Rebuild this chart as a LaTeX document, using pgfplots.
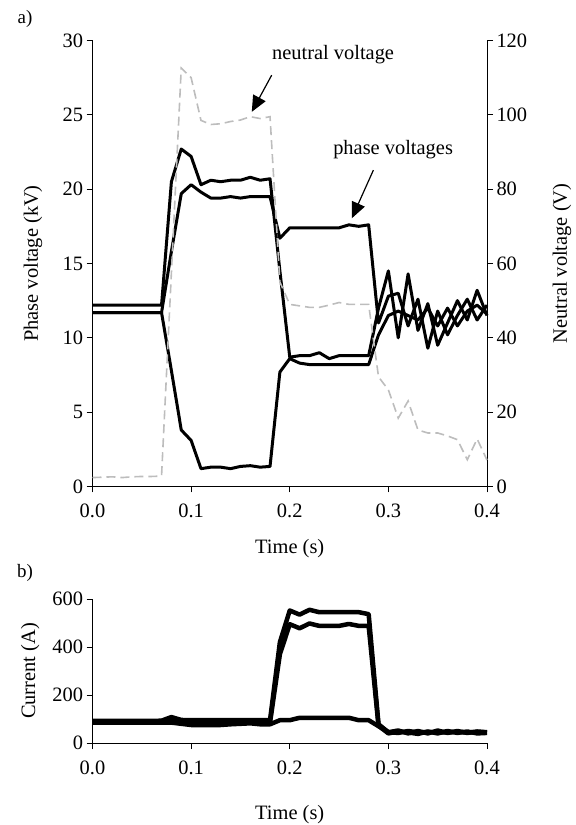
\documentclass[border=0pt]{standalone}
\usepackage{fontspec}
\setmainfont{Liberation Serif}
\usepackage{pgfplots}
\pgfplotsset{compat=1.18}
\usetikzlibrary{arrows.meta}

\definecolor{neutralgrey}{HTML}{BDBDBD}

\pgfplotsset{
  excel/.style={
    scale only axis,
    width=394.5bp,
    xmin=0, xmax=0.4,
    xtick={0,0.1,0.2,0.3,0.4},
    tick align=outside,
    major tick length=6bp,
    tick style={black, line width=0.8bp},
    axis line style={black, line width=0.8bp, -},
    ticklabel style={font=\fontsize{20.5}{24}\selectfont},
    label style={font=\fontsize{20.5}{24}\selectfont},
    xticklabel style={/pgf/number format/fixed, /pgf/number format/fixed zerofill,
      /pgf/number format/precision=1, yshift=-8bp},
    /pgf/number format/assume math mode=true,
    clip=false,
  },
  phase/.style={black, line width=3bp, line join=round},
  curr/.style={black, line width=4.5bp, line join=round},
}

\begin{document}
\begin{tikzpicture}
\path[use as bounding box] (0bp,0bp) rectangle (576bp,825bp);

\node[font=\fontsize{19}{22}\selectfont] at (25bp,806bp) {a)};
\node[font=\fontsize{19}{22}\selectfont] at (25bp,252bp) {b)};

% ---- a) phase voltages (left axis)
\begin{axis}[excel,
  at={(92.5bp,338.5bp)}, anchor=south west,
  height=446bp,
  ymin=0, ymax=30, ytick={0,5,...,30},
  axis x line*=bottom, axis y line*=left,
  xlabel={Time (s)},
  ylabel={Phase voltage (kV)},
  xlabel style={at={(axis description cs:0.5,-0.14)}, anchor=center},
  ylabel style={at={(axis description cs:-0.151,0.5)}, anchor=center},
]
\addplot[phase] coordinates {
  (0,12.2) (0.01,12.2) (0.02,12.2) (0.03,12.2) (0.04,12.2) (0.05,12.2) (0.06,12.2) (0.07,12.2)
  (0.08,20.5) (0.09,22.7) (0.10,22.2) (0.11,20.3) (0.12,20.6) (0.13,20.5) (0.14,20.6)
  (0.15,20.6) (0.16,20.8) (0.17,20.6) (0.18,20.7) (0.19,14.5) (0.20,8.7) (0.21,8.8)
  (0.22,8.8) (0.23,9.0) (0.24,8.6) (0.25,8.8) (0.26,8.8) (0.27,8.8) (0.28,8.8)
  (0.29,12.0) (0.30,14.5) (0.31,10.0) (0.32,14.3) (0.33,10.5) (0.34,12.3) (0.35,9.5)
  (0.36,11.0) (0.37,12.5) (0.38,11.2) (0.39,13.2) (0.40,11.5)
};
\addplot[phase] coordinates {
  (0,11.7) (0.01,11.7) (0.02,11.7) (0.03,11.7) (0.04,11.7) (0.05,11.7) (0.06,11.7) (0.07,11.7)
  (0.08,15.8) (0.09,19.7) (0.10,20.3) (0.11,19.8) (0.12,19.4) (0.13,19.4) (0.14,19.5)
  (0.15,19.4) (0.16,19.5) (0.17,19.5) (0.18,19.5) (0.19,16.7) (0.20,17.4) (0.21,17.4)
  (0.22,17.4) (0.23,17.4) (0.24,17.4) (0.25,17.4) (0.26,17.6) (0.27,17.5) (0.28,17.6)
  (0.29,11.0) (0.30,12.8) (0.31,13.0) (0.32,10.8) (0.33,12.6) (0.34,9.3) (0.35,11.8)
  (0.36,10.2) (0.37,11.5) (0.38,12.6) (0.39,11.2) (0.40,12.2)
};
\addplot[phase] coordinates {
  (0,11.7) (0.01,11.7) (0.02,11.7) (0.03,11.7) (0.04,11.7) (0.05,11.7) (0.06,11.7) (0.07,11.7)
  (0.08,7.8) (0.09,3.8) (0.10,3.1) (0.11,1.2) (0.12,1.3) (0.13,1.3) (0.14,1.2)
  (0.15,1.35) (0.16,1.4) (0.17,1.3) (0.18,1.35) (0.19,7.7) (0.20,8.6) (0.21,8.3)
  (0.22,8.2) (0.23,8.2) (0.24,8.2) (0.25,8.2) (0.26,8.2) (0.27,8.2) (0.28,8.2)
  (0.29,10.2) (0.30,11.5) (0.31,11.8) (0.32,11.5) (0.33,11.2) (0.34,12.0) (0.35,10.8)
  (0.36,12.0) (0.37,10.8) (0.38,11.8) (0.39,12.2) (0.40,11.6)
};
\draw[-{Triangle[length=16bp,width=14bp]}, line width=1.2bp]
  (axis cs:0.1817,27.67) -- (axis cs:0.1615,25.2);
\node[font=\fontsize{20.5}{24}\selectfont] at (axis cs:0.2439,29.02) {neutral voltage};
\draw[-{Triangle[length=16bp,width=14bp]}, line width=1.2bp]
  (axis cs:0.2848,21.28) -- (axis cs:0.2629,18.04);
\node[font=\fontsize{20.5}{24}\selectfont] at (axis cs:0.3048,22.63) {phase voltages};
\end{axis}

% ---- a) neutral voltage (right axis)
\begin{axis}[excel,
  at={(92.5bp,338.5bp)}, anchor=south west,
  height=446bp,
  ymin=0, ymax=120, ytick={0,20,...,120},
  axis x line=none, axis y line*=right,
  ylabel={Neutral voltage (V)},
  ylabel style={at={(axis description cs:1.19,0.5)}, anchor=center},
]
\addplot[neutralgrey, line width=1.6bp, dash pattern=on 9bp off 5bp] coordinates {
  (0,2.4) (0.01,2.5) (0.02,2.6) (0.03,2.4) (0.04,2.6) (0.05,2.7) (0.06,2.7) (0.07,2.8)
  (0.08,57.5) (0.09,112.6) (0.10,110.0) (0.11,98.5) (0.12,97.4) (0.13,97.6) (0.14,98.2)
  (0.15,98.6) (0.16,99.5) (0.17,99.0) (0.18,99.5) (0.19,55.0) (0.20,49.0) (0.21,48.6)
  (0.22,48.2) (0.23,48.2) (0.24,48.8) (0.25,49.5) (0.26,49.0) (0.27,49.0) (0.28,49.0)
  (0.29,29.5) (0.30,26.0) (0.31,18.4) (0.32,23.0) (0.33,15.2) (0.34,14.4) (0.35,14.4)
  (0.36,13.6) (0.37,12.6) (0.38,7.2) (0.39,12.8) (0.40,7.1)
};
\end{axis}

% ---- b) currents
\begin{axis}[excel,
  at={(92.5bp,82bp)}, anchor=south west,
  height=144bp,
  ymin=0, ymax=600, ytick={0,200,400,600},
  axis x line*=bottom, axis y line*=left,
  xlabel={Time (s)},
  ylabel={Current (A)},
  xlabel style={at={(axis description cs:0.5,-0.50)}, anchor=center},
  ylabel style={at={(axis description cs:-0.158,0.5)}, anchor=center},
]
\addplot[curr] coordinates {
  (0,92) (0.01,92) (0.02,92) (0.03,92) (0.04,92) (0.05,92) (0.06,92) (0.07,93)
  (0.08,108) (0.09,96) (0.10,95) (0.11,95) (0.12,95) (0.13,95) (0.14,95)
  (0.15,95) (0.16,95) (0.17,95) (0.18,95) (0.19,420) (0.20,552) (0.21,535)
  (0.22,555) (0.23,545) (0.24,545) (0.25,545) (0.26,545) (0.27,545) (0.28,537)
  (0.29,78) (0.30,45) (0.31,52) (0.32,40) (0.33,50) (0.34,40) (0.35,52)
  (0.36,42) (0.37,50) (0.38,42) (0.39,48) (0.40,45)
};
\addplot[curr] coordinates {
  (0,88) (0.01,88) (0.02,88) (0.03,88) (0.04,88) (0.05,88) (0.06,88) (0.07,88)
  (0.08,90) (0.09,88) (0.10,85) (0.11,85) (0.12,85) (0.13,85) (0.14,86)
  (0.15,86) (0.16,86) (0.17,85) (0.18,85) (0.19,370) (0.20,495) (0.21,478)
  (0.22,498) (0.23,488) (0.24,488) (0.25,488) (0.26,496) (0.27,488) (0.28,488)
  (0.29,72) (0.30,40) (0.31,48) (0.32,44) (0.33,38) (0.34,48) (0.35,40)
  (0.36,50) (0.37,42) (0.38,48) (0.39,40) (0.40,42)
};
\addplot[curr] coordinates {
  (0,85) (0.01,85) (0.02,85) (0.03,85) (0.04,85) (0.05,85) (0.06,85) (0.07,85)
  (0.08,85) (0.09,80) (0.10,75) (0.11,75) (0.12,75) (0.13,75) (0.14,78)
  (0.15,80) (0.16,82) (0.17,78) (0.18,78) (0.19,95) (0.20,95) (0.21,105)
  (0.22,105) (0.23,105) (0.24,105) (0.25,105) (0.26,105) (0.27,95) (0.28,95)
  (0.29,70) (0.30,45) (0.31,42) (0.32,50) (0.33,44) (0.34,46) (0.35,44)
  (0.36,44) (0.37,46) (0.38,44) (0.39,46) (0.40,44)
};
\end{axis}
\end{tikzpicture}
\end{document}
